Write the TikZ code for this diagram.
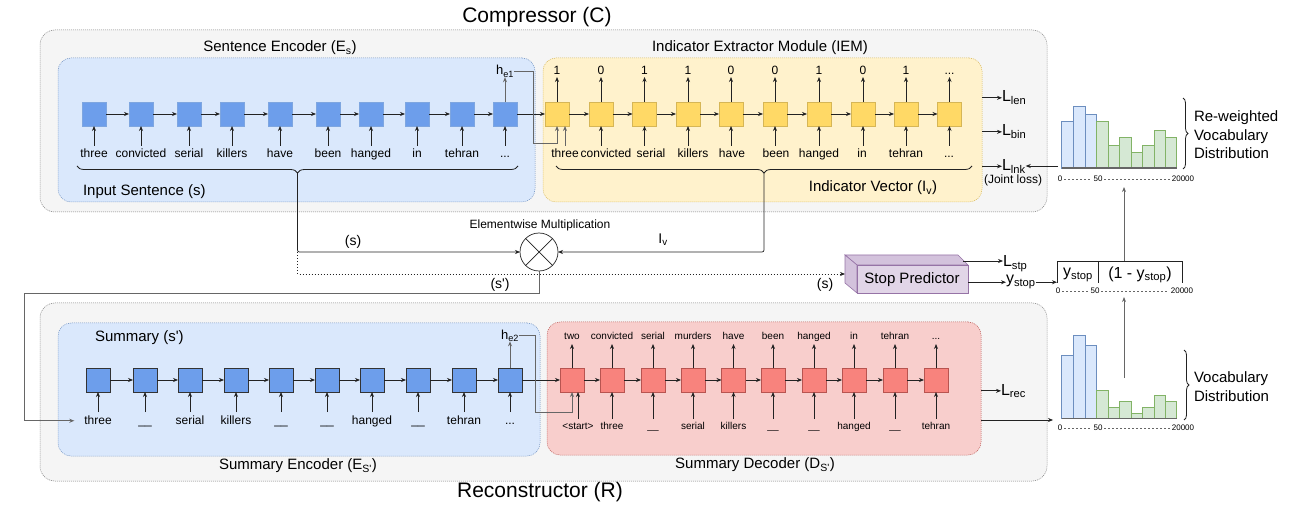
\documentclass[tikz,border=0pt]{standalone}
\usepackage{fontspec}
\setmainfont{Liberation Sans}
\usetikzlibrary{arrows.meta,decorations.pathreplacing}
\newcommand\mydots{...}
\definecolor{outerfill}{HTML}{F5F5F5}
\definecolor{outerdraw}{HTML}{777777}
\definecolor{bluebg}{HTML}{DAE8FC}
\definecolor{bluedraw}{HTML}{6C8EBF}
\definecolor{yellowbg}{HTML}{FFF2CC}
\definecolor{yellowdraw}{HTML}{D6B656}
\definecolor{redbg}{HTML}{F8CECC}
\definecolor{reddraw}{HTML}{B85450}
\definecolor{encfill}{HTML}{6D9EEB}
\definecolor{encdraw}{HTML}{7EA6E0}
\definecolor{yelfill}{HTML}{FFD966}
\definecolor{redfill}{HTML}{F8837D}
\definecolor{purfront}{HTML}{E1D5E7}
\definecolor{purside}{HTML}{D3C2DC}
\definecolor{purdraw}{HTML}{9673A6}
\definecolor{greenbg}{HTML}{D5E8D4}
\definecolor{greendraw}{HTML}{82B366}
\definecolor{linec}{HTML}{222222}
\definecolor{grayline}{HTML}{666666}
\begin{document}
\begin{tikzpicture}[x=1pt,y=-1pt,
  every node/.style={inner sep=0pt,outer sep=0pt},
  fs/.style={font=\fontsize{#1}{#1}\selectfont},
  grp/.style={draw, rounded corners=13pt, dash pattern=on 1pt off 1pt, line width=0.5pt},
  sq/.style={rectangle, minimum size=24pt, line width=0.7pt},
  arr/.style={draw=linec, line width=0.7pt, -{Stealth[length=5pt,width=4pt]}},
  garr/.style={draw=grayline, line width=0.9pt, -{Stealth[length=5pt,width=4pt]}},
  darr/.style={draw=linec, line width=0.7pt, dash pattern=on 1pt off 2pt, -{Stealth[length=5pt,width=4pt]}},
  brc/.style={decorate, decoration={brace, amplitude=7pt}, draw=linec, line width=0.8pt},
  hbrc/.style={decorate, decoration={brace, amplitude=5pt}, draw=linec, line width=0.8pt},
  axd/.style={draw=grayline, line width=0.6pt, dash pattern=on 2pt off 2pt, shorten <=2pt, shorten >=2pt},
  wd/.style={fs=12, anchor=base, text height=9pt, text depth=2.5pt, outer ysep=3pt},
  dw/.style={fs=10, anchor=base, text height=7.5pt, text depth=2pt, outer ysep=2.5pt},
  dg/.style={fs=12, anchor=base, text height=9pt, text depth=0pt, outer ysep=2pt},
]
\useasboundingbox (0,0) rectangle (1303,510);
% ---------- group boxes
\node[grp, draw=outerdraw, fill=outerfill, minimum width=1007, minimum height=182, rounded corners=15pt] (comp) at (543.5,121) {};
\node[grp, draw=outerdraw, fill=outerfill, minimum width=1007, minimum height=178, rounded corners=15pt] (recon) at (543.5,392) {};
\node[grp, draw=bluedraw, fill=bluebg, minimum width=477, minimum height=144] (senc) at (296.5,130) {};
\node[grp, draw=yellowdraw, fill=yellowbg, minimum width=439, minimum height=144] (iem) at (762.5,130) {};
\node[grp, draw=bluedraw, fill=bluebg, minimum width=482, minimum height=133] (senc2) at (299,389.5) {};
\node[grp, draw=reddraw, fill=redbg, minimum width=434, minimum height=133] (dec) at (764,388.5) {};
% ---------- titles
\node[fs=21] (tC) at (537,17) {Compressor (C)};
\node[fs=21] (tR) at (540,492) {Reconstructor (R)};
\node[fs=15] (tSE) at (280,48) {Sentence Encoder (E\textsubscript{s})};
\node[fs=15] (tIEM) at (760,48) {Indicator Extractor Module (IEM)};
\node[fs=15, anchor=west] (tIS) at (83,192) {Input Sentence (s)};
\node[fs=15] (tIV) at (873,188) {Indicator Vector (I\textsubscript{v})};
\node[fs=15, anchor=west] (tSum) at (95,338) {Summary (s\textquotesingle)};
\node[fs=15] (tSumE) at (298,466) {Summary Encoder (E\textsubscript{S\textquotesingle})};
\node[fs=15] (tSumD) at (755,465) {Summary Decoder (D\textsubscript{S\textquotesingle})};
% ---------- sentence encoder
\foreach \x/\w [count=\i] in {94/three,141/convicted,189/serial,232/killers,280/have,328/been,371/hanged,417/in,462/tehran,505/\mydots}{
  \node[sq, draw=encdraw, fill=encfill] (e\i) at (\x,114) {};
  \node[wd] (ew\i) at (\x,158) {\w};
  \draw[arr] (ew\i.north) -- (e\i.south);
}
\foreach \i [evaluate=\i as \j using int(\i+1)] in {1,...,9} \draw[arr] (e\i.east) -- (e\j.west);
% ---------- IEM
\foreach \x/\d [count=\i] in {557/1,601/0,644.5/1,688/1,731/0,775/0,819/1,863/0,906/1,949.5/\mydots}{
  \node[sq, draw=yellowdraw, fill=yelfill] (y\i) at (\x,114) {};
  \node[dg] (yd\i) at (\x,75) {\d};
  \draw[arr] (y\i.north) -- (yd\i.south);
}
\foreach \x/\w [count=\i] in {565/three,606/convicted,651/serial,693/killers,732/have,776/been,819/hanged,862/in,906/tehran,949/\mydots}{
  \node[wd] (yw\i) at (\x,158) {\w};
}
\draw[garr] (yw1.north) -- (yw1.north |- y1.south);
\foreach \i in {2,...,10} \draw[arr] (y\i.south |- yw\i.north) -- (y\i.south);
\foreach \i [evaluate=\i as \j using int(\i+1)] in {1,...,9} \draw[arr] (y\i.east) -- (y\j.west);
\draw[arr] (e10.east) -- (y1.west);
\node[fs=13, anchor=base] (he1) at (505,75) {h\textsubscript{e1}};
\draw[garr] (e10.north) -- (he1.south);
\draw[garr] (he1.east) -| (533,143) -| (y1.south);
% losses
\node[fs=16, anchor=base west] (llen) at (1002,102) {L\textsubscript{len}};
\node[fs=16, anchor=base west] (lbin) at (1002,136) {L\textsubscript{bin}};
\node[fs=16, anchor=base west] (llnk) at (1002,170.5) {L\textsubscript{lnk}};
\node[fs=12] (jl) at (1013,180.5) {(Joint loss)};
\draw[arr] (iem.east |- llen.west) -- (llen.west);
\draw[arr] (iem.east |- lbin.west) -- (lbin.west);
\draw[arr] (iem.east |- llnk.west) -- (llnk.west);
% ---------- braces and multiplication
\draw[brc] (518,166) -- (77,166);
\draw[brc] (972,166) -- (556,166);
\coordinate (bt1) at (297.5,173);
\coordinate (bt2) at (764,173);
\node[draw=linec, circle, minimum size=38pt, line width=0.7pt, fill=white] (mult) at (539,252) {};
\draw[linec, line width=0.7pt] (mult.north west) -- (mult.south east) (mult.north east) -- (mult.south west);
\node[fs=12] (lem) at (540,225) {Elementwise Multiplication};
\draw[arr, rounded corners=2pt] (bt1) |- (mult.west);
\draw[arr, rounded corners=2pt] (bt2) |- (mult.east);
\node[fs=14] (ls) at (353,242) {(s)};
\node[fs=14] (liv) at (663,240) {I\textsubscript{v}};
\node[fs=14] (lsp) at (500,285) {(s\textquotesingle)};
\node[fs=14] (ls2) at (825,285) {(s)};
% ---------- stop predictor
\node[minimum width=123pt, minimum height=38pt] (sp) at (906.5,274) {};
\draw[fill=purside, draw=purdraw, line width=0.6pt] (845,255) -- (958,255) -- (968,265) -- (857,265) -- cycle;
\draw[fill=purside, draw=purdraw, line width=0.6pt] (845,255) -- (857,265) -- (857,293) -- (845,283) -- cycle;
\draw[fill=purfront, draw=purdraw, line width=0.6pt] (857,265) rectangle (968,293);
\node[fs=15] (sptext) at (912,280) {Stop Predictor};
\draw[darr] (bt1 |- mult.west) |- (sp.west);
\node[fs=16, anchor=base west] (lstp) at (1003,267) {L\textsubscript{stp}};
\node[fs=16, anchor=base west] (ysl) at (1006,284) {y\textsubscript{stop}};
\coordinate (spc) at (963,261);
\draw[arr] (spc) -- (spc -| lstp.west);
\draw[arr] (sp.east |- ysl.west) -- (ysl.west);
% ---------- y_stop bar
\node[minimum width=125pt, minimum height=22pt] (bar) at (1119.5,272) {};
\draw[linec, line width=0.8pt] (bar.south west) -- (bar.north west) -- (bar.north east) -- (bar.south east);
\draw[linec, line width=0.8pt] (1098,261) -- (1098,283);
\node[fs=16] (b1) at (1078,275) {y\textsubscript{stop}};
\node[fs=16] (b2) at (1140,275) {(1 - y\textsubscript{stop})};
\draw[arr] (ysl.east) -- (ysl.east -| bar.west);
% ---------- histograms
\foreach \a/\b/\t/\fc/\dc in {1061.7/1073.3/121/bluebg/bluedraw,1073.3/1085/106/bluebg/bluedraw,1085/1096.7/114/bluebg/bluedraw,1096.7/1108.3/121/greenbg/greendraw,1108.3/1119.3/145.3/greenbg/greendraw,1119.3/1131/137.3/greenbg/greendraw,1131/1142.7/152.7/greenbg/greendraw,1142.7/1154/145.3/greenbg/greendraw,1154/1165.7/130/greenbg/greendraw,1165.7/1176.7/137.3/greenbg/greendraw}
  \draw[fill=\fc, draw=\dc, line width=0.8pt] (\a,168) rectangle (\b,\t);
\draw[grayline, line width=1.2pt] (1061.7,168) -- (1176.7,168);
\foreach \a/\b/\t/\fc/\dc in {1061.7/1073.3/355/bluebg/bluedraw,1073.3/1085/335.7/bluebg/bluedraw,1085/1096.7/345/bluebg/bluedraw,1096.7/1108.3/390/greenbg/greendraw,1108.3/1119.3/407.3/greenbg/greendraw,1119.3/1131/401/greenbg/greendraw,1131/1142.7/413.3/greenbg/greendraw,1142.7/1154/407.3/greenbg/greendraw,1154/1165.7/395.3/greenbg/greendraw,1165.7/1176.7/401/greenbg/greendraw}
  \draw[fill=\fc, draw=\dc, line width=0.8pt] (\a,418.3) rectangle (\b,\t);
\draw[grayline, line width=1.2pt] (1061.7,418.3) -- (1176.7,418.3);
\draw[hbrc] (1183,98) -- (1183,169);
\draw[hbrc] (1184,350) -- (1184,420);
\node[font=\fontsize{15}{18.5}\selectfont, anchor=west, align=left] (rvd) at (1194,135) {Re-weighted\\Vocabulary\\Distribution};
\node[font=\fontsize{15}{18.5}\selectfont, anchor=west, align=left] (vd) at (1194,386.5) {Vocabulary\\Distribution};
\foreach \yy/\xa/\xb/\xc/\n in {179/1060/1098/1183/ax,291/1058/1095/1182/bx,428/1060/1098/1183/cx}{
  \node[fs=8] (\n Z) at (\xa,\yy) {0};
  \node[fs=8] (\n F) at (\xb,\yy) {50};
  \node[fs=8] (\n T) at (\xc,\yy) {20000};
  \draw[axd] (\n Z) -- (\n F);
  \draw[axd] (\n F) -- (\n T);
}
\coordinate (h1in) at (1058,166);
\draw[arr] (h1in) -- (h1in -| llnk.east);
\coordinate (barout) at (1124,261);
\coordinate (h1bot) at (1124,187);
\draw[garr] (barout) -- (h1bot);
\coordinate (h2top) at (1124,378);
\coordinate (barin) at (1124,297);
\draw[garr] (h2top) -- (barin);
% ---------- summary encoder
\foreach \x/\w [count=\i] in {98/three,145/{\_\_},190/serial,236/killers,281/{\_\_},327/{\_\_},372/hanged,418/{\_\_},464/tehran,510/\mydots}{
  \node[sq, draw=black!80, fill=encfill] (s\i) at (\x,380) {};
  \node[wd] (lw\i) at (\x,424) {\w};
  \draw[arr] (lw\i.north) -- (s\i.south);
}
\foreach \i [evaluate=\i as \j using int(\i+1)] in {1,...,9} \draw[arr] (s\i.east) -- (s\j.west);
\node[fs=13, anchor=base] (he2) at (510,339) {h\textsubscript{e2}};
\draw[garr] (s10.north) -- (he2.south);
\draw[garr, shorten >=10pt] (mult.south) |- (24,293) |- (lw1.west);
% ---------- summary decoder
\foreach \x/\t [count=\i] in {572/two,612/convicted,653/serial,693/murders,733.5/have,773/been,814/hanged,854/in,895/tehran,936/\mydots}{
  \node[sq, draw=reddraw, fill=redfill] (d\i) at (\x,380) {};
  \node[dw] (dt\i) at (\x,339.5) {\t};
  \draw[arr] (d\i.north) -- (dt\i.south);
}
\foreach \x/\w [count=\i] in {578/{\textless start\textgreater},612/three,653/{\_\_},693/serial,733.5/killers,773/{\_\_},814/{\_\_},854/hanged,895/{\_\_},936/tehran}{
  \node[dw] (db\i) at (\x,429) {\w};
  \draw[arr] (db\i.north) -- (db\i.north |- d\i.south);
}
\foreach \i [evaluate=\i as \j using int(\i+1)] in {1,...,9} \draw[arr] (d\i.east) -- (d\j.west);
\draw[arr] (s10.east) -- (d1.west);
\draw[garr] (he2.east) -| (535,412) -| (d1.south);
\node[fs=16, anchor=base west] (lrec) at (1001,395) {L\textsubscript{rec}};
\draw[arr] (dec.east |- lrec.west) -- (lrec.west);
\coordinate (h2in) at (1053,420);
\draw[arr] (dec.east |- h2in) -- (h2in);
\end{tikzpicture}
\end{document}
